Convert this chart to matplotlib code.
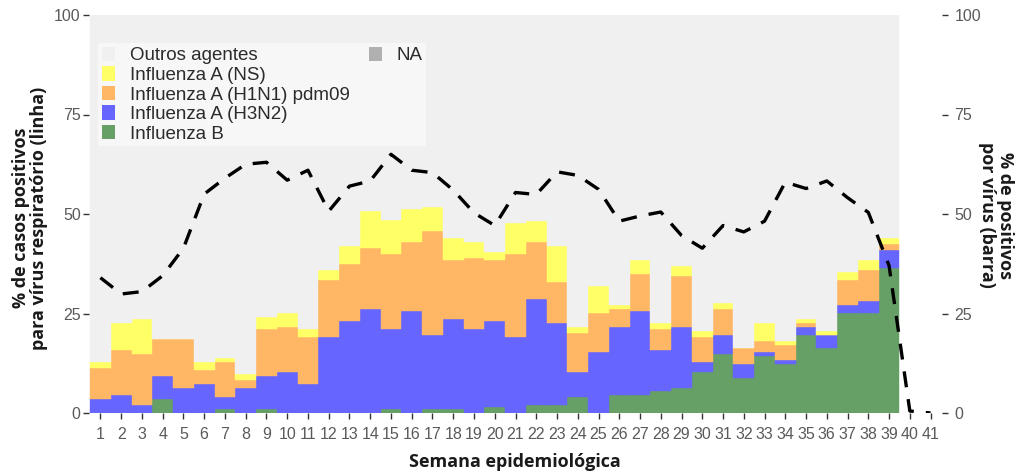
import matplotlib
matplotlib.use("Agg")
import matplotlib.pyplot as plt
from matplotlib.patches import Patch
import numpy as np

# semanas epidemiológicas
weeks_bar = np.arange(1, 40)
weeks_line = np.arange(1, 42)

# % de positivos por vírus (barra), semanas 1-39
flu_b = [0, 0, 0, 3.6, 0, 0, 1.1, 0, 1.1, 0, 0, 0, 0, 0, 1.1, 0, 1.1, 1.1, 0, 1.6,
         0, 2.1, 2.1, 4.1, 0, 4.6, 4.6, 5.6, 6.2, 10.3, 14.9, 8.7, 14.3, 12.3, 19.5,
         16.4, 25.1, 25.1, 36.4]
flu_h3n2 = [3.6, 4.6, 2.1, 5.6, 6.2, 7.2, 2.9, 6.2, 8.1, 10.3, 7.2, 19.0, 23.0, 26.2,
            19.9, 25.7, 18.4, 22.4, 21.0, 21.4, 19.0, 26.6, 20.4, 6.2, 15.4, 16.9,
            21.1, 10.3, 15.3, 2.5, 4.6, 3.6, 1.1, 1.0, 2.0, 3.1, 2.1, 3.1, 4.6]
flu_h1n1 = [7.7, 11.3, 12.8, 9.3, 12.3, 3.6, 8.8, 2.1, 11.8, 11.2, 11.8, 14.3, 14.5,
            15.3, 19.0, 17.3, 26.2, 15.0, 18.0, 15.5, 21.0, 14.3, 10.3, 9.7, 9.7, 4.7,
            9.2, 5.1, 12.8, 6.2, 6.7, 4.1, 2.6, 3.7, 1.0, 0.0, 6.1, 7.7, 1.5]
flu_ns = [1.6, 6.6, 8.6, 0, 0, 2.1, 1.0, 1.5, 3.1, 3.6, 2.0, 2.6, 4.5, 9.3, 8.4, 8.2,
          6.0, 5.5, 4.0, 2.0, 7.7, 5.2, 9.2, 1.5, 6.7, 1.0, 3.6, 1.5, 2.6, 1.5, 1.5, 0,
          4.5, 1.0, 1.0, 1.0, 2.1, 2.6, 1.5]

# % de casos positivos para vírus respiratório (linha), semanas 1-41
pct_resp = [34.0, 29.9, 30.5, 34.5, 41.4, 55.0, 59.0, 62.5, 63.0, 58.5, 61.0, 50.7,
            57.0, 58.3, 65.0, 61.0, 60.4, 56.0, 50.3, 47.1, 55.4, 54.9, 60.6, 59.7,
            56.2, 48.2, 49.5, 50.5, 44.6, 41.4, 47.1, 45.5, 48.2, 58.0, 56.4, 58.3,
            54.1, 50.4, 37.0, 0.5, 0.0]

series_labels = ["Influenza B", "Influenza A (H3N2)", "Influenza A (H1N1) pdm09",
                 "Influenza A (NS)", "Outros agentes"]
colors = ["#66A066", "#6666FF", "#FFB766", "#FFFF66", "#F0F0F0"]
na_color = "#B0B0B0"

yticks = [0, 25, 50, 75, 100]

tick_font = ["Liberation Sans Narrow", "Liberation Sans", "DejaVu Sans"]
title_font = ["Open Sans", "DejaVu Sans"]
tick_color = "#5A5A5A"

fig = plt.figure(figsize=(10.16, 4.72), dpi=100)
ax = fig.add_axes([89 / 1016, 59 / 472, 853 / 1016, 398 / 472])

# barras empilhadas, completadas até 100% com "Outros agentes"
stack = np.array([flu_b, flu_h3n2, flu_h1n1, flu_ns])
outros = 100 - stack.sum(axis=0)
layers = list(stack) + [outros]
bottom = np.zeros(len(weeks_bar))
for vals, col, lab in zip(layers, colors, series_labels):
    ax.bar(weeks_bar, vals, bottom=bottom, width=1.0, color=col,
           edgecolor=col, linewidth=0.3, label=lab, zorder=1)
    bottom = bottom + np.array(vals)

# linha tracejada
ax.plot(weeks_line, pct_resp, color="black", lw=2.4, dashes=(4.8, 3.6),
        dash_capstyle="butt", zorder=3)

ax.set_xlim(0.45, 41.55)
ax.set_ylim(0, 100)
ax.set_xticks(weeks_line)
ax.set_xticklabels([str(w) for w in weeks_line], family=tick_font, fontsize=11.5,
                   color=tick_color)
ax.set_yticks(yticks)
ax.set_yticklabels([str(v) for v in yticks], family=tick_font, fontsize=11.5,
                   color=tick_color)
ax.tick_params(axis="x", length=4, width=1, color="#333333", pad=6)
ax.tick_params(axis="y", length=4, width=1, color="#333333", pad=2)
for s in ax.spines.values():
    s.set_visible(False)

ax2 = ax.twinx()
ax2.set_ylim(0, 100)
ax2.set_yticks(yticks)
ax2.set_yticklabels([str(v) for v in yticks], family=tick_font, fontsize=11.5,
                    color=tick_color)
ax2.tick_params(axis="y", length=4, width=1, color="#333333", pad=5)
for s in ax2.spines.values():
    s.set_visible(False)

# legenda
leg_handles = [Patch(facecolor=colors[4], edgecolor="none"),
               Patch(facecolor=colors[3], edgecolor="none"),
               Patch(facecolor=colors[2], edgecolor="none"),
               Patch(facecolor=colors[1], edgecolor="none"),
               Patch(facecolor=colors[0], edgecolor="none"),
               Patch(facecolor=na_color, edgecolor="none")]
blank = Patch(facecolor="none", edgecolor="none")
leg_labels = [series_labels[4], series_labels[3], series_labels[2], series_labels[1],
              series_labels[0], "NA"]
leg = ax2.legend(leg_handles + [blank] * 4, leg_labels + [""] * 4, ncol=2,
                 loc="upper left", bbox_to_anchor=(0.0106, 0.9296),
                 frameon=True, facecolor="#F7F7F7", edgecolor="none", framealpha=1,
                 fancybox=False, labelspacing=0.1, handlelength=0.7,
                 handleheight=0.8, handletextpad=0.8, columnspacing=1.0,
                 borderpad=0.2, borderaxespad=0,
                 prop={"family": ["Liberation Sans", "DejaVu Sans"], "size": 13.5})
for t in leg.get_texts():
    t.set_color("#2B2B2B")

# títulos dos eixos
fig.text(515 / 1016, 1 - 462 / 472, "Semana epidemiológica", ha="center", va="center",
         family=title_font, fontweight="bold", fontsize=13, color="#1A1A1A")
fig.text(30 / 1016, 1 - 218 / 472, "% de casos positivos\npara vírus respiratório (linha)",
         ha="center", va="center", rotation=90, family=title_font, fontweight="bold",
         fontsize=13, color="#1A1A1A", linespacing=1.0)
fig.text(996 / 1016, 1 - 215 / 472, "% de positivos\npor vírus (barra)",
         ha="center", va="center", rotation=270, family=title_font, fontweight="bold",
         fontsize=13, color="#1A1A1A", linespacing=1.0)

fig.savefig("out.png", dpi=100, facecolor="white")
